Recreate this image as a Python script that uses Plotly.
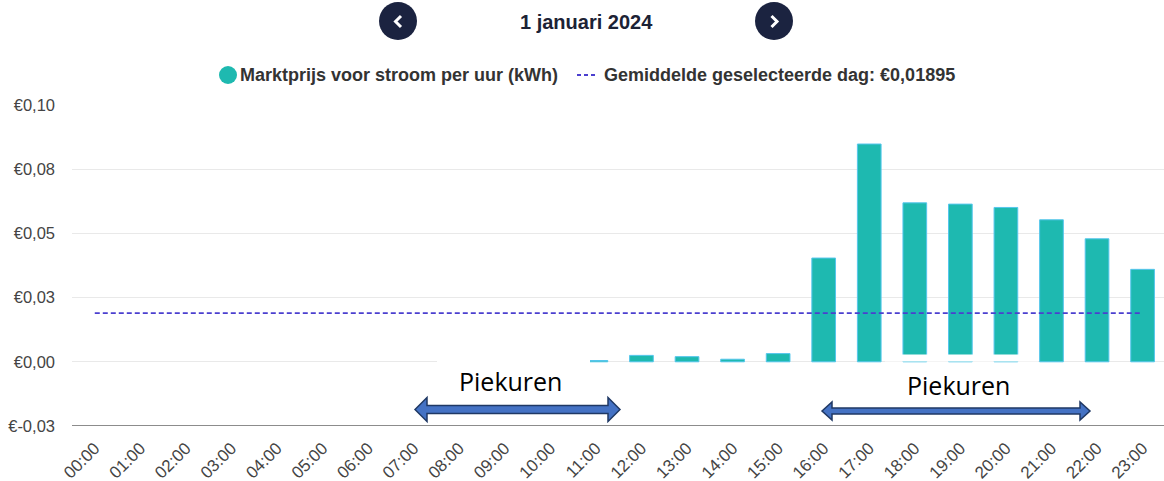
import plotly.graph_objects as go

hours = [f"{h:02d}:00" for h in range(24)]
prices = [0.0, 0.0, 0.0, 0.0, 0.0, 0.0, 0.0, 0.0, 0.0, 0.0, 0.0,
          0.0005, 0.0025, 0.0020, 0.0010, 0.0032,
          0.0404, 0.0848, 0.0619, 0.0614, 0.0601, 0.0553, 0.0479, 0.0360]
average = 0.01895
y_tickvals = [-0.025, 0.0, 0.025, 0.05, 0.075, 0.1]
y_ticktext = ["€-0,03", "€0,00", "€0,03", "€0,05", "€0,08", "€0,10"]
title_text = "1 januari 2024"
bar_name = "Marktprijs voor stroom per uur (kWh)"
avg_name = "Gemiddelde geselecteerde dag: €0,01895"

W, H = 1164, 481
ML, MR, MT, MB = 72, 0, 105, 55
PW, PH = W - ML - MR, H - MT - MB

def px(x):
    return (x - ML) / PW

def py(y):
    return (H - MB - y) / PH

TEAL = "#1eb9b0"
EDGE = "#55c6ec"
AVG = "#4b3fcf"

fig = go.Figure()
fig.add_trace(go.Bar(x=hours, y=prices,
                     marker=dict(color=TEAL, line=dict(color=EDGE, width=[1 if v else 0 for v in prices])),
                     width=0.52, showlegend=False, name=bar_name))
fig.add_trace(go.Scatter(x=hours, y=[average] * len(hours), mode="lines",
                         line=dict(color=AVG, width=1.6, dash="5px,3px"), showlegend=False, name=avg_name))

shapes = []
annotations = []

# nav buttons
for cx, chev in [(398, -1), (774, 1)]:
    r = 19
    shapes.append(dict(type="circle", xref="paper", yref="paper",
                       x0=px(cx - r), x1=px(cx + r), y0=py(21 + r), y1=py(21 - r),
                       fillcolor="#1b2340", line=dict(width=0), layer="above"))
    if chev < 0:
        pts = [(cx + 3, 16), (cx - 2.5, 21.5), (cx + 3, 27)]
    else:
        pts = [(cx - 2.5, 16), (cx + 3, 21.5), (cx - 2.5, 27)]
    path = "M " + " L ".join(f"{px(a)},{py(b)}" for a, b in pts)
    shapes.append(dict(type="path", xref="paper", yref="paper", path=path,
                       line=dict(color="white", width=3), layer="above"))

annotations.append(dict(xref="paper", yref="paper", x=px(586), y=py(22), text=f"<b>{title_text}</b>",
                        showarrow=False, font=dict(family="Liberation Sans", size=20, color="#1c2235"),
                        xanchor="center", yanchor="middle"))

# manual legend
shapes.append(dict(type="circle", xref="paper", yref="paper",
                   x0=px(219), x1=px(237), y0=py(84), y1=py(66),
                   fillcolor=TEAL, line=dict(width=0), layer="above"))
annotations.append(dict(xref="paper", yref="paper", x=px(238), y=py(75), text=f"<b>{bar_name}</b>",
                        showarrow=False, font=dict(family="Liberation Sans", size=18, color="#333"),
                        xanchor="left", yanchor="middle"))
shapes.append(dict(type="line", xref="paper", yref="paper",
                   x0=px(577), x1=px(598), y0=py(75), y1=py(75),
                   line=dict(color=AVG, width=2, dash="4px,3px"), layer="above"))
annotations.append(dict(xref="paper", yref="paper", x=px(602), y=py(75), text=f"<b>{avg_name}</b>",
                        showarrow=False, font=dict(family="Liberation Sans", size=18, color="#333"),
                        xanchor="left", yanchor="middle"))

# white covers (from overlaid text boxes in the source)
shapes.append(dict(type="rect", xref="paper", yref="paper", x0=px(437), x1=px(590), y0=py(366), y1=py(357),
                   fillcolor="white", line=dict(width=0), layer="above"))
shapes.append(dict(type="rect", xref="paper", yref="paper", x0=px(885), x1=px(1038), y0=py(361.5), y1=py(354.5),
                   fillcolor="white", line=dict(width=0), layer="above"))

def arrow(x0, x1, yc, body, head, hl):
    pts = [(x0, yc), (x0 + hl, yc - head), (x0 + hl, yc - body), (x1 - hl, yc - body), (x1 - hl, yc - head),
           (x1, yc), (x1 - hl, yc + head), (x1 - hl, yc + body), (x0 + hl, yc + body), (x0 + hl, yc + head)]
    return "M " + " L ".join(f"{px(a)},{py(b)}" for a, b in pts) + " Z"

shapes.append(dict(type="path", xref="paper", yref="paper", path=arrow(415, 620, 409.5, 4, 12, 12),
                   fillcolor="#4472c4", line=dict(color="#1f3864", width=1.5), layer="above"))
shapes.append(dict(type="path", xref="paper", yref="paper", path=arrow(822, 1090, 411, 3, 9, 10),
                   fillcolor="#4472c4", line=dict(color="#1f3864", width=1.5), layer="above"))

for cx, cy in [(510, 381), (958, 385)]:
    annotations.append(dict(xref="paper", yref="paper", x=px(cx), y=py(cy), text="Piekuren", showarrow=False,
                            font=dict(family="Open Sans", size=25, color="black"), xanchor="center", yanchor="middle"))

fig.update_layout(
    width=W, height=H, autosize=False,
    margin=dict(l=ML, r=MR, t=MT, b=MB),
    plot_bgcolor="white", paper_bgcolor="white",
    font=dict(family="Liberation Sans", color="#444"),
    bargap=0.48,
    showlegend=False,
    shapes=shapes, annotations=annotations,
)
fig.update_xaxes(type="category", range=[-0.5, 23.47], tickangle=-45, showgrid=False,
                 showline=False, ticks="", tickfont=dict(size=17, color="#444"), ticklabelstandoff=8)
fig.update_yaxes(range=[-0.025, 0.1], tickvals=y_tickvals, ticktext=y_ticktext,
                 showgrid=True, gridcolor="#e9e9e9", gridwidth=1, zeroline=False,
                 tickfont=dict(size=16.5, color="#444"), ticklabelstandoff=16)
# bottom axis line
fig.add_hline(y=-0.025, line=dict(color="#666", width=1.5))

fig.write_html("out.html", post_script="document.body.style.margin='0';",
               config={"displayModeBar": False})
